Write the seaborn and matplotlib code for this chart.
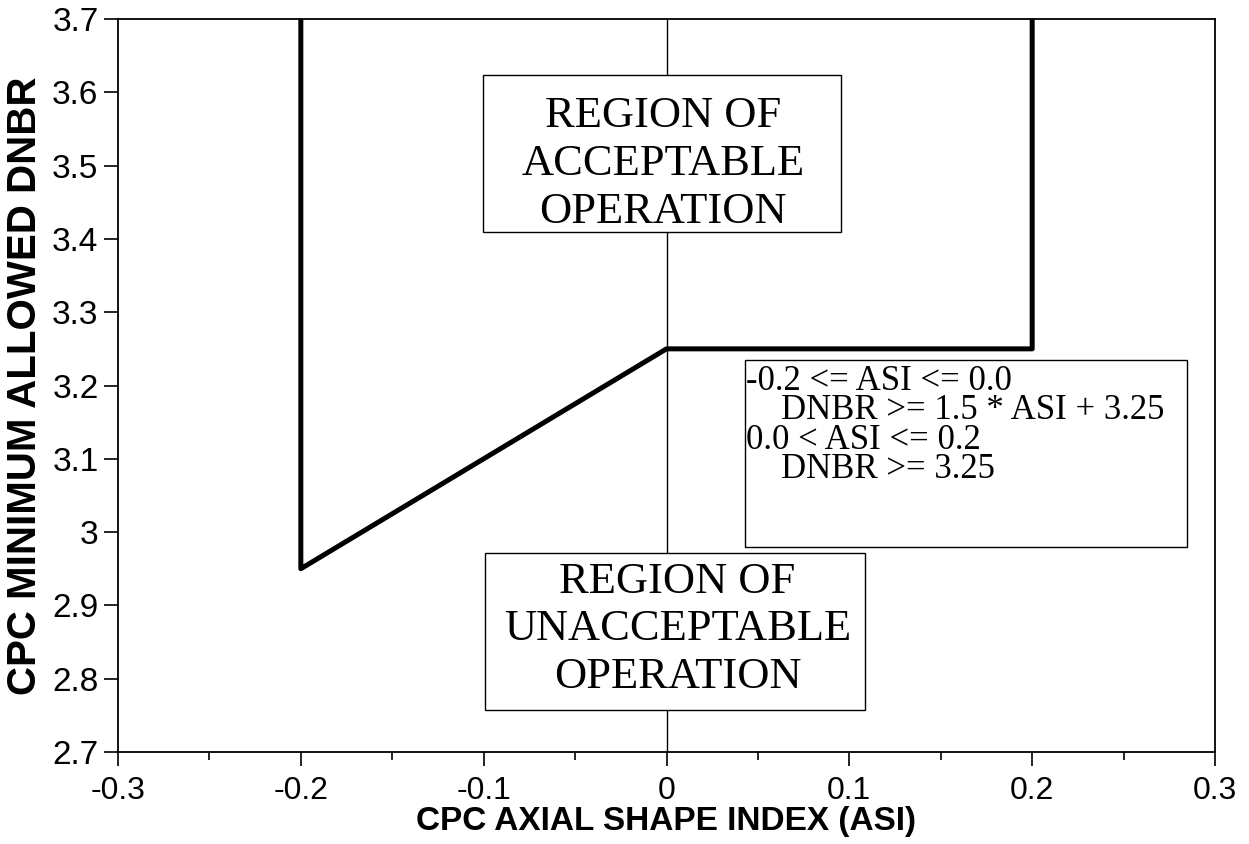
import matplotlib.pyplot as plt
import matplotlib.ticker as mticker
import pandas as pd
import seaborn as sns
from matplotlib.patches import Rectangle

# Limit line for CPC minimum allowed DNBR versus ASI
limit_asi = [-0.2, -0.2, 0.0, 0.2, 0.2]
limit_dnbr = [3.7, 2.95, 3.25, 3.25, 3.7]

x_ticks = [-0.3, -0.2, -0.1, 0.0, 0.1, 0.2, 0.3]
y_ticks = [2.7, 2.8, 2.9, 3.0, 3.1, 3.2, 3.3, 3.4, 3.5, 3.6, 3.7]

upper_label = "REGION OF\nACCEPTABLE\nOPERATION"
lower_label = "REGION OF\nUNACCEPTABLE\nOPERATION"
rule_label = ("-0.2 <= ASI <= 0.0\n"
              "    DNBR >= 1.5 * ASI + 3.25\n"
              "0.0 < ASI <= 0.2\n"
              "    DNBR >= 3.25")

sns.set_style("white")
plt.rcParams["font.family"] = ["Liberation Sans", "DejaVu Sans"]
plt.rcParams.update({
    "text.color": "black",
    "axes.labelcolor": "black",
    "xtick.color": "black",
    "ytick.color": "black",
})

fig = plt.figure(figsize=(12.49, 8.44), dpi=100)
ax = fig.add_axes([118 / 1249, 1 - 752 / 844, (1215 - 118) / 1249, (752 - 19) / 844])

limit = pd.DataFrame({"asi": limit_asi, "dnbr": limit_dnbr})
sns.lineplot(data=limit, x="asi", y="dnbr", sort=False, estimator=None,
             color="black", linewidth=3.6, ax=ax)
ax.axvline(0.0, color="black", linewidth=1.0)

ax.set_xlim(-0.3, 0.3)
ax.set_ylim(2.7, 3.7)
ax.set_xticks(x_ticks)
ax.set_yticks(y_ticks)
ax.xaxis.set_minor_locator(mticker.MultipleLocator(0.05))
ax.xaxis.set_major_formatter(mticker.FuncFormatter(lambda v, p: f"{v:g}" if abs(v) > 1e-9 else "0"))
ax.yaxis.set_major_formatter(mticker.FuncFormatter(lambda v, p: f"{v:g}"))

ax.tick_params(axis="both", which="major", direction="out", length=10, width=1.2,
               color="black", bottom=True, left=True)
ax.tick_params(axis="x", which="minor", direction="out", length=6, width=1.2,
               color="black", bottom=True)
ax.tick_params(axis="x", which="major", labelsize=23, pad=7)
ax.tick_params(axis="y", which="major", labelsize=24, pad=4)
for spine in ax.spines.values():
    spine.set_color("black")
    spine.set_linewidth(1.3)

ax.set_xlabel("CPC AXIAL SHAPE INDEX (ASI)", fontsize=24, fontweight="bold", labelpad=0)
ax.set_ylabel("CPC MINIMUM ALLOWED DNBR", fontsize=29, fontweight="bold", labelpad=6)

serif = ["Liberation Serif", "DejaVu Serif"]

# boxes: (x0, y0, width, height) in data units; text placed by last baseline
ax.add_patch(Rectangle((-0.1004, 3.409), 0.196, 0.215, facecolor="white",
                       edgecolor="black", linewidth=1.0, zorder=3))
ax.text(-0.002, 3.422, upper_label, ha="center", va="baseline", fontsize=32,
        family=serif, linespacing=1.25, zorder=4)

ax.add_patch(Rectangle((-0.0993, 2.757), 0.208, 0.214, facecolor="white",
                       edgecolor="black", linewidth=1.0, zorder=3))
ax.text(0.006, 2.787, lower_label, ha="center", va="baseline", fontsize=32,
        family=serif, linespacing=1.25, zorder=4)

ax.add_patch(Rectangle((0.0429, 2.980), 0.2418, 0.255, facecolor="white",
                       edgecolor="black", linewidth=1.0, zorder=3))
ax.text(0.0436, 3.074, rule_label, ha="left", va="baseline", fontsize=25,
        family=serif, linespacing=0.85, zorder=4)

fig.savefig("out.png", dpi=100)
